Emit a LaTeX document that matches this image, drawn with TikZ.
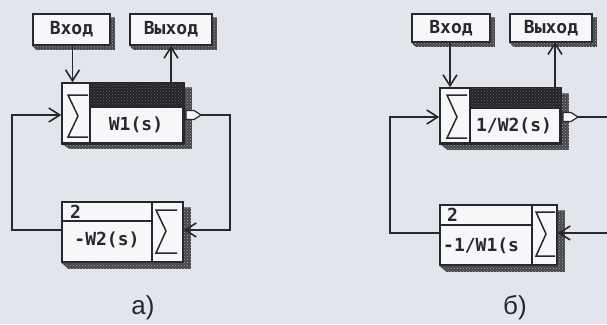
\documentclass[tikz,border=0pt]{standalone}
\usepackage{fontspec}
\setmainfont{Liberation Sans}
\newfontfamily\boxfont{DejaVu Sans Mono}
\usetikzlibrary{arrows.meta,patterns}
\definecolor{paper}{RGB}{226,230,236}
\definecolor{ink}{RGB}{40,40,44}
\definecolor{boxbg}{RGB}{246,247,249}
\definecolor{shd}{RGB}{70,70,74}
\newcommand\shadowof[3]{%
  \fill[shdfill] ([yshift=-#3]#1.north east) -- ([xshift=#2,yshift=-#3]#1.north east)
    -- ([xshift=#2,yshift=-#3]#1.south east) -- ([xshift=#2,yshift=-#3]#1.south west)
    -- (#1.south west) -- (#1.south east) -- cycle;}
\begin{document}
\begin{tikzpicture}[x=1pt,y=-1pt,
  lin/.style={draw=ink,line width=1.5pt},
  shdfill/.style={fill=shd,postaction={pattern=crosshatch dots,pattern color=black!35}},
  iobox/.style={lin,fill=boxbg,inner sep=0pt,font=\boxfont\bfseries\fontsize{18}{18}\selectfont,text=ink},
  blk/.style={lin,fill=boxbg,inner sep=0pt},
  hdr/.style={fill=ink!90!black,postaction={pattern=crosshatch dots,pattern color=black!60}},
  lbl/.style={font=\boxfont\bfseries\fontsize{18}{18}\selectfont,text=ink,inner sep=0pt},
  captxt/.style={font=\fontsize{26}{26}\selectfont,text=ink,inner sep=0pt},
  arr/.style={lin,-{Straight Barb[length=11pt,width=14pt,line width=1.6pt]}},
  con/.style={lin}
]
\useasboundingbox[fill=paper] (0,0) rectangle (607,324);

% ---------------- a) ----------------
\node[iobox,minimum width=77pt,minimum height=31pt] (in1) at (71.5,29.5) {Вход};
\node[iobox,minimum width=82pt,minimum height=31pt] (out1) at (171,29.5) {Выход};
\node[blk,minimum width=121pt,minimum height=60pt] (m1) at (122.5,113) {};
\shadowof{in1}{4pt}{4pt}
\shadowof{out1}{4pt}{4pt}
\shadowof{m1}{8pt}{5pt}
\fill[hdr] (90,83) rectangle (183,107);
\draw[lin] (90,83) -- (90,143) (90,107) -- (183,107);
\draw[lin] (m1.north west) rectangle (m1.south east);
\draw[lin] (88,95) -- (68,95) -- (78,116) -- (68,137) -- (88,137);
\node[lbl] (t1) at (136,125) {W1(s)};

\node[blk,minimum width=121pt,minimum height=60pt] (f1) at (122.5,232) {};
\shadowof{f1}{7pt}{6pt}
\draw[lin] (152,202) -- (152,262) (62,221) -- (152,221);
\draw[lin] (177,210) -- (156,210) -- (166,231) -- (156,253) -- (177,253);
\node[lbl,anchor=west] (n1) at (70,212) {2};
\node[lbl] (t2) at (107,240) {-W2(s)};

\coordinate (a1) at (230,115);
\coordinate (a2) at (230,230);
\coordinate (a3) at (12,230);
\coordinate (a4) at (12,115);
\coordinate (p1) at (183,115);
\coordinate (ina) at (72.5,45);
\draw[arr] (ina) -- (ina |- m1.north);
\draw[arr] (out1.south |- m1.north) -- (out1.south);
\draw[arr] (p1) -- (a1) -- (a2) -- (f1.east |- a2);
\draw[arr] (f1.west |- a3) -- (a3) -- (a4) -- (m1.west |- a4);
\draw[lin,fill=boxbg,line width=1.2pt] (186,110.5) -- (194,110.5) -- (201,115) -- (194,119.5) -- (186,119.5) -- cycle;
\node[captxt] (la) at (143,308) {а)};

% ---------------- б) ----------------
\node[iobox,minimum width=78pt,minimum height=28pt] (in2) at (451,28) {Вход};
\node[iobox,minimum width=82pt,minimum height=28pt] (out2) at (551,28) {Выход};
\node[blk,minimum width=120pt,minimum height=55pt] (m2) at (500,115.5) {};
\shadowof{in2}{4pt}{4pt}
\shadowof{out2}{4pt}{4pt}
\shadowof{m2}{8pt}{6pt}
\fill[hdr] (470,88) rectangle (560,108);
\draw[lin] (470,88) -- (470,143) (470,108) -- (560,108);
\draw[lin] (m2.north west) rectangle (m2.south east);
\draw[lin] (467,95) -- (447,95) -- (457,117) -- (447,138) -- (467,138);
\node[lbl] (t3) at (514,126) {1/W2(s)};

\node[blk,minimum width=117pt,minimum height=60pt] (f2) at (498.5,235) {};
\shadowof{f2}{7pt}{6pt}
\draw[lin] (532,205) -- (532,265) (440,225) -- (532,225);
\draw[lin] (555,212) -- (536,212) -- (546,234) -- (536,256) -- (555,256);
\node[lbl,anchor=west] (n2) at (447,215) {2};
\node[lbl,anchor=west] (t4) at (443,246) {-1/W1(s};

\coordinate (b1) at (390,117);
\coordinate (b2) at (390,233);
\coordinate (b3) at (607,117);
\coordinate (b4) at (607,233);
\coordinate (inb) at (450,42);
\coordinate (outb) at (555,42);
\draw[arr] (inb) -- (inb |- m2.north);
\draw[arr] (outb |- m2.north) -- (outb);
\draw[arr] (f2.west |- b2) -- (b2) -- (b1) -- (m2.west |- b1);
\draw[con] (m2.east |- b3) -- (b3);
\draw[arr] (b4) -- (f2.east |- b4);
\draw[lin,fill=boxbg,line width=1.2pt] (563,112.5) -- (571,112.5) -- (578,117) -- (571,121.5) -- (563,121.5) -- cycle;
\node[captxt] (lb) at (515,308) {б)};
\end{tikzpicture}
\end{document}
